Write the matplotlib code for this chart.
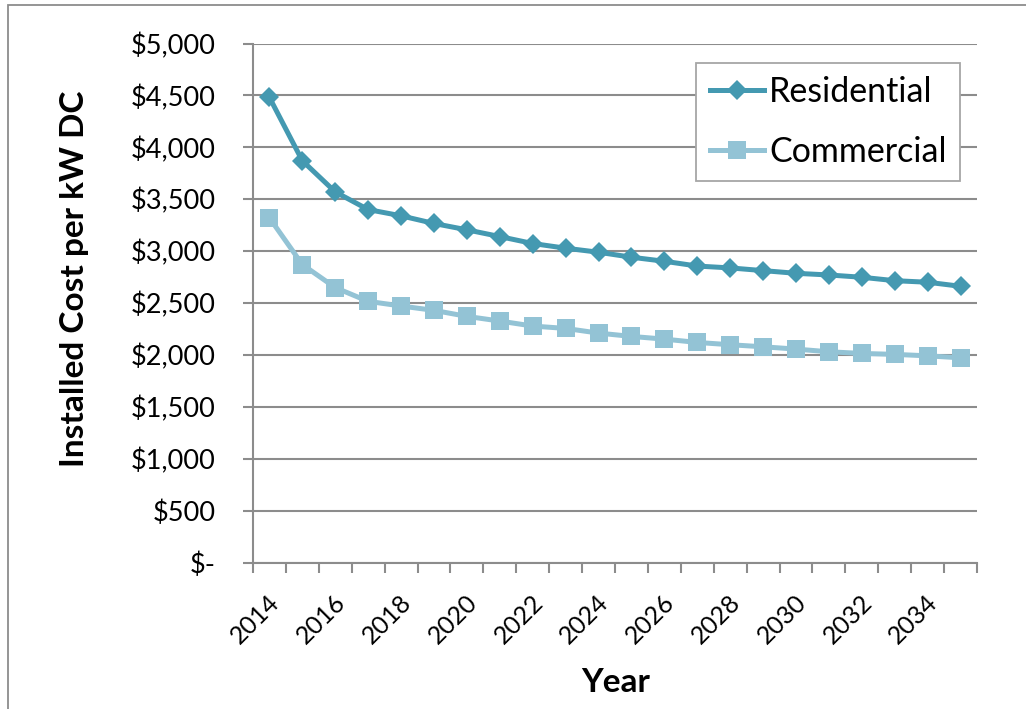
import matplotlib
matplotlib.use("Agg")
import matplotlib.pyplot as plt
from matplotlib.patches import Rectangle
from matplotlib.ticker import FixedLocator
from matplotlib.transforms import ScaledTranslation

plt.rcParams['font.family'] = ['Lato', 'DejaVu Sans']

years = list(range(2014, 2036))
residential = [4480, 3870, 3570, 3400, 3340, 3266, 3205, 3140, 3073, 3028, 2989,
               2941, 2902, 2856, 2838, 2812, 2786, 2770, 2748, 2715, 2700, 2661]
commercial = [3320, 2870, 2648, 2516, 2471, 2429, 2371, 2326, 2278, 2255, 2210,
              2178, 2152, 2120, 2098, 2078, 2056, 2030, 2014, 2005, 1991, 1972]
y_ticks = [0, 500, 1000, 1500, 2000, 2500, 3000, 3500, 4000, 4500, 5000]
y_labels = ['$-', '$500', '$1,000', '$1,500', '$2,000', '$2,500', '$3,000',
            '$3,500', '$4,000', '$4,500', '$5,000']
x_labels = [str(y) for y in years[::2]]

W, H = 1026, 709
fig = plt.figure(figsize=(W / 100, H / 100), dpi=100)
grid_col = '#8c8c8c'

# outer chart border (top and left visible)
fig.patches.append(Rectangle((8 / W, -0.05), 1.2, 1 - 4.7 / H + 0.05,
                             transform=fig.transFigure, fill=False,
                             edgecolor=grid_col, linewidth=1.3))

ax = fig.add_axes([253 / W, 1 - 562.5 / H, (977 - 253) / W, (562.5 - 43.5) / H])
x = list(range(len(years)))

res_col = '#4499b1'
com_col = '#93c3d5'
ax.plot(x, residential, color=res_col, lw=3.6, marker='D', ms=10,
        mew=0, label='Residential', zorder=3)
ax.plot(x, commercial, color=com_col, lw=3.6, marker='s', ms=13.5,
        mew=0, label='Commercial', zorder=3)

ax.set_xlim(-0.5, len(years) - 0.5)
ax.set_ylim(0, 5000)

ax.yaxis.set_major_locator(FixedLocator(y_ticks))
ax.set_yticklabels(y_labels)
ax.grid(axis='y', color=grid_col, lw=1.5)
ax.set_axisbelow(True)

ax.set_xticks(x[::2])
ax.set_xticklabels(x_labels, rotation=45, ha='right', va='center_baseline',
                   rotation_mode='anchor')
ax.set_xticks([i - 0.5 for i in range(len(years) + 1)], minor=True)
ax.tick_params(axis='x', which='major', length=0, labelsize=18, pad=25)
ax.tick_params(axis='x', which='minor', length=7, width=1.5, color=grid_col,
               direction='out')
ax.tick_params(axis='y', which='major', length=7, width=1.5, color=grid_col,
               labelsize=19.5, pad=20)
offset = ScaledTranslation(0.05, 0.0, fig.dpi_scale_trans)
for lbl in ax.get_xticklabels():
    lbl.set_transform(lbl.get_transform() + offset)

for s in ['top', 'right']:
    ax.spines[s].set_visible(False)
for s in ['left', 'bottom']:
    ax.spines[s].set_color(grid_col)
    ax.spines[s].set_linewidth(1.5)

ax.set_ylabel('Installed Cost per kW DC', fontsize=24, fontweight='bold')
ax.yaxis.set_label_coords(89 / W, 1 - 279 / H, transform=fig.transFigure)
ax.set_xlabel('Year', fontsize=24, fontweight='bold')
ax.xaxis.set_label_coords(616 / W, 1 - 668 / H, transform=fig.transFigure)

leg = ax.legend(loc='upper left', bbox_to_anchor=(696 / W, 1 - 62.7 / H),
                bbox_transform=fig.transFigure, fontsize=24.5, frameon=True,
                fancybox=False, edgecolor='#a6a6a6', framealpha=1,
                handlelength=1.6, handletextpad=0.15, labelspacing=0.8,
                borderpad=0.4, borderaxespad=0)
leg.get_frame().set_linewidth(1.3)

fig.savefig('out.png', dpi=100)
